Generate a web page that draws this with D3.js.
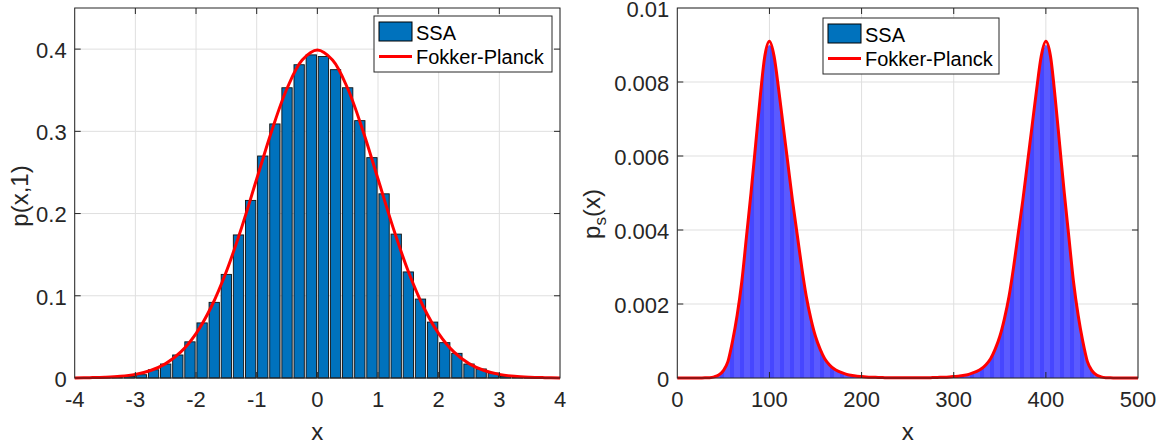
<!DOCTYPE html>
<html>
<head>
<meta charset="utf-8">
<script src="https://cdn.jsdelivr.net/npm/d3@7"></script>
<style>
  html, body { margin: 0; padding: 0; background: #fff; }
  svg { display: block; font-family: "Liberation Sans", Arial, Helvetica, sans-serif; }
</style>
</head>
<body>
<svg id="fig" width="1162" height="444"></svg>
<script>
// ---- Left panel: histogram of SSA samples at t = 1 vs. Fokker-Planck solution ----
const binCenters = [-3.9,-3.7,-3.5,-3.3,-3.1,-2.9,-2.7,-2.5,-2.3,-2.1,-1.9,-1.7,-1.5,-1.3,-1.1,-0.9,-0.7,-0.5,-0.3,-0.1,
                    0.1,0.3,0.5,0.7,0.9,1.1,1.3,1.5,1.7,1.9,2.1,2.3,2.5,2.7,2.9,3.1,3.3,3.5,3.7,3.9];
const ssaDensity = [0,0,0.0002,0.0008,0.002,0.004,0.010,0.017,0.028,0.044,0.067,0.092,0.126,0.174,0.216,0.270,0.309,0.353,0.381,0.393,
                    0.391,0.375,0.353,0.313,0.268,0.224,0.175,0.129,0.096,0.068,0.043,0.030,0.017,0.011,0.006,0.002,0.001,0.0003,0.0001,0];
const fpX = [-4,-3.75,-3.5,-3.25,-3,-2.75,-2.5,-2.25,-2,-1.75,-1.5,-1.25,-1,-0.75,-0.5,-0.25,0,
             0.25,0.5,0.75,1,1.25,1.5,1.75,2,2.25,2.5,2.75,3,3.25,3.5,3.75,4];
const fpDensity = [0.0001,0.0004,0.0009,0.0020,0.0044,0.0091,0.0175,0.0317,0.0540,0.0863,0.1295,0.1826,0.2420,0.3011,0.3521,0.3867,0.3989,
                   0.3867,0.3521,0.3011,0.2420,0.1826,0.1295,0.0863,0.0540,0.0317,0.0175,0.0091,0.0044,0.0020,0.0009,0.0004,0.0001];
const leftXTicks = [-4,-3,-2,-1,0,1,2,3,4];
const leftYTicks = [0,0.1,0.2,0.3,0.4];

// ---- Right panel: stationary distribution of the bistable system ----
const gridX = [0,5,10,15,20,25,30,35,40,45,50,55,60,65,70,75,80,85,90,95,100,105,110,115,120,125,130,135,140,145,150,
               155,160,165,170,175,180,185,190,195,200,205,210,215,220,225,230,235,240,245,250,
               255,260,265,270,275,280,285,290,295,300,305,310,315,320,325,330,335,340,345,350,355,360,365,370,375,
               380,385,390,395,400,405,410,415,420,425,430,435,440,445,450,455,460,465,470,475,480,485,490,495,500];
const fpStationary = [0,0,0,0,0.000001,0.000002,0.000005,0.00001,0.00003,0.00008,0.0002,0.00045,0.0010,0.0017,0.0026,0.0038,
                      0.0050,0.0063,0.0076,0.0087,0.0091,0.0087,0.0078,0.0068,0.0058,0.0048,0.0039,0.0030,0.0022,0.0016,0.00112,
                      0.00078,0.00052,0.00036,0.00025,0.00018,0.00013,0.00009,0.00007,0.00005,0.00004,0.00003,0.000022,0.000017,
                      0.000013,0.00001,0.000009,0.000008,0.000007,0.000007,0.000007,
                      0.000007,0.000007,0.000008,0.000009,0.00001,0.000013,0.000017,0.000022,0.00003,0.00004,0.00005,0.00007,
                      0.00009,0.00013,0.00018,0.00025,0.00036,0.00052,0.00078,0.00112,0.0016,0.0022,0.0030,0.0039,0.0048,0.0058,
                      0.0068,0.0078,0.0087,0.0091,0.0087,0.0076,0.0063,0.0050,0.0038,0.0026,0.0017,0.0010,0.00045,0.0002,
                      0.00008,0.00003,0.00001,0.000005,0.000002,0.000001,0,0,0,0];
const ssaStationary = [0,0,0,0,0.000001,0.000002,0.000005,0.00001,0.00003,0.00008,0.0002,0.00045,0.0010,0.0017,0.0026,0.0038,
                       0.0050,0.0063,0.0076,0.0086,0.0090,0.0087,0.0078,0.0068,0.0058,0.0048,0.0039,0.0030,0.0022,0.0016,0.00112,
                       0.00078,0.00052,0.00036,0.00025,0.00018,0.00013,0.00009,0.00007,0.00005,0.00004,0.00003,0.000022,0.000017,
                       0.000013,0.00001,0.000009,0.000008,0.000007,0.000007,0.000007,
                       0.000007,0.000007,0.000008,0.000009,0.00001,0.000013,0.000017,0.000022,0.00003,0.00004,0.00005,0.00007,
                       0.00009,0.00013,0.00018,0.00025,0.00036,0.00052,0.00078,0.00112,0.0016,0.0022,0.0030,0.0039,0.0048,0.0058,
                       0.0068,0.0078,0.0086,0.0090,0.0087,0.0076,0.0063,0.0050,0.0038,0.0026,0.0017,0.0010,0.00045,0.0002,
                       0.00008,0.00003,0.00001,0.000005,0.000002,0.000001,0,0,0,0];
const rightXTicks = [0,100,200,300,400,500];
const rightYTicks = [0,0.002,0.004,0.006,0.008,0.01];

const legendLabels = ["SSA", "Fokker-Planck"];

// ---- styling ----
const AXIS = "#262626", GRID = "#dfdfdf", RED = "#ff0000";
const BAR_BLUE = "#0072bd", AREA_BLUE = "#5a5aff";
const TICK_FS = 22, LABEL_FS = 24, LEGEND_FS = 20, TICK_LEN = 6;

const svg = d3.select("#fig");
const defs = svg.append("defs");

// faint vertical banding inside the stationary histogram
const pat = defs.append("pattern").attr("id", "bands")
  .attr("patternUnits", "userSpaceOnUse").attr("width", 10).attr("height", 10);
pat.append("rect").attr("width", 10).attr("height", 10).attr("fill", AREA_BLUE);
pat.append("rect").attr("x", 0).attr("width", 4).attr("height", 10).attr("fill", "#4646ff");

function drawGrid(g, x, y, xTicks, yTicks) {
  const [x0, x1] = x.range(), [y1, y0] = y.range();
  g.append("g").selectAll("line").data(xTicks).join("line")
    .attr("x1", d => x(d)).attr("x2", d => x(d)).attr("y1", y0).attr("y2", y1)
    .attr("stroke", GRID).attr("stroke-width", 1);
  g.append("g").selectAll("line").data(yTicks).join("line")
    .attr("x1", x0).attr("x2", x1).attr("y1", d => y(d)).attr("y2", d => y(d))
    .attr("stroke", GRID).attr("stroke-width", 1);
}

function drawAxesOverlay(g, x, y, xTicks, yTicks, yFmt) {
  const [x0, x1] = x.range(), [y1, y0] = y.range();
  const top = g.append("g");
  // box
  top.append("rect").attr("x", x0).attr("y", y0).attr("width", x1 - x0).attr("height", y1 - y0)
    .attr("fill", "none").attr("stroke", AXIS).attr("stroke-width", 1);
  // ticks on all four sides, pointing inward
  const xs = xTicks.filter(d => x(d) > x0 + 0.5 && x(d) < x1 - 0.5);
  const ys = yTicks.filter(d => y(d) < y1 - 0.5 && y(d) > y0 + 0.5);
  top.selectAll("line.tb").data(xs).join("line")
    .attr("x1", d => x(d)).attr("x2", d => x(d)).attr("y1", y1).attr("y2", y1 - TICK_LEN)
    .attr("stroke", AXIS);
  top.selectAll("line.tt").data(xs).join("line")
    .attr("x1", d => x(d)).attr("x2", d => x(d)).attr("y1", y0).attr("y2", y0 + TICK_LEN)
    .attr("stroke", AXIS);
  top.selectAll("line.tl").data(ys).join("line")
    .attr("x1", x0).attr("x2", x0 + TICK_LEN).attr("y1", d => y(d)).attr("y2", d => y(d))
    .attr("stroke", AXIS);
  top.selectAll("line.tr").data(ys).join("line")
    .attr("x1", x1).attr("x2", x1 - TICK_LEN).attr("y1", d => y(d)).attr("y2", d => y(d))
    .attr("stroke", AXIS);
  // tick labels
  top.selectAll("text.xl").data(xTicks).join("text")
    .attr("x", d => x(d)).attr("y", y1 + 29)
    .attr("text-anchor", "middle").attr("font-size", TICK_FS).attr("fill", AXIS)
    .text(d => String(d));
  top.selectAll("text.yl").data(yTicks).join("text")
    .attr("x", x0 - 8).attr("y", d => y(d)).attr("dy", "0.40em")
    .attr("text-anchor", "end").attr("font-size", TICK_FS).attr("fill", AXIS)
    .text(yFmt);
  // x label
  top.append("text").attr("x", (x0 + x1) / 2).attr("y", 440)
    .attr("text-anchor", "middle").attr("font-size", LABEL_FS).attr("fill", AXIS).text("x");
}

function drawLegend(g, lx, ly, w, h, swatchFill) {
  const L = g.append("g").attr("transform", `translate(${lx},${ly})`);
  L.append("rect").attr("width", w).attr("height", h).attr("fill", "#fff")
    .attr("stroke", AXIS).attr("stroke-width", 1);
  L.append("rect").attr("x", 5).attr("y", 6).attr("width", 33).attr("height", 19)
    .attr("fill", swatchFill).attr("stroke", "#000").attr("stroke-width", 1);
  L.append("line").attr("x1", 5).attr("x2", 38).attr("y1", 40.5).attr("y2", 40.5)
    .attr("stroke", RED).attr("stroke-width", 3);
  L.selectAll("text").data(legendLabels).join("text")
    .attr("x", 42).attr("y", (d, i) => 23.5 + i * 24)
    .attr("font-size", LEGEND_FS).attr("fill", "#000").text(d => d);
}

// ================= left panel =================
{
  const x = d3.scaleLinear().domain([-4, 4]).range([74.7, 560]);
  const y = d3.scaleLinear().domain([0, 0.45]).range([378, 8]);
  const g = svg.append("g");
  drawGrid(g, x, y, leftXTicks, leftYTicks);

  const binW = 0.2, barFrac = 0.85;
  g.append("g").selectAll("rect").data(binCenters).join("rect")
    .attr("x", d => x(d - binW * barFrac / 2))
    .attr("width", d => x(d + binW * barFrac / 2) - x(d - binW * barFrac / 2))
    .attr("y", (d, i) => y(ssaDensity[i]))
    .attr("height", (d, i) => y(0) - y(ssaDensity[i]))
    .attr("fill", BAR_BLUE).attr("stroke", "#111").attr("stroke-width", 0.9);

  const line = d3.line().x(d => x(d[0])).y(d => y(d[1])).curve(d3.curveCatmullRom.alpha(0.5));
  g.append("path").datum(fpX.map((v, i) => [v, fpDensity[i]]))
    .attr("d", line).attr("fill", "none").attr("stroke", RED).attr("stroke-width", 3)
    .attr("stroke-linejoin", "round");

  drawAxesOverlay(g, x, y, leftXTicks, leftYTicks, d => d === 0 ? "0" : d3.format(".1f")(d));
  g.append("text").attr("transform", "translate(28,196) rotate(-90)")
    .attr("text-anchor", "middle").attr("font-size", LABEL_FS).attr("fill", AXIS).text("p(x,1)");
  drawLegend(g, 374, 16, 178, 56, BAR_BLUE);
}

// ================= right panel =================
{
  const x = d3.scaleLinear().domain([0, 500]).range([677.3, 1138]);
  const y = d3.scaleLinear().domain([0, 0.01]).range([378, 8]);
  const g = svg.append("g");
  drawGrid(g, x, y, rightXTicks, rightYTicks);

  const area = d3.area().x(d => x(d[0])).y0(y(0)).y1(d => y(d[1])).curve(d3.curveMonotoneX);
  g.append("path").datum(gridX.map((v, i) => [v, ssaStationary[i]]))
    .attr("d", area).attr("fill", "url(#bands)");

  const line = d3.line().x(d => x(d[0])).y(d => y(d[1])).curve(d3.curveMonotoneX);
  g.append("path").datum(gridX.map((v, i) => [v, fpStationary[i]]))
    .attr("d", line).attr("fill", "none").attr("stroke", RED).attr("stroke-width", 3)
    .attr("stroke-linejoin", "round");

  drawAxesOverlay(g, x, y, rightXTicks, rightYTicks, d => d === 0 ? "0" : d3.format(".3~f")(d));
  const yl = g.append("text").attr("transform", "translate(600,214) rotate(-90)")
    .attr("text-anchor", "middle").attr("font-size", LABEL_FS).attr("fill", AXIS);
  yl.append("tspan").text("p");
  yl.append("tspan").attr("font-size", 17).attr("dy", 6).text("s");
  yl.append("tspan").attr("dy", -6).text("(x)");
  drawLegend(g, 823, 18, 176, 56, BAR_BLUE);
}
</script>
</body>
</html>
